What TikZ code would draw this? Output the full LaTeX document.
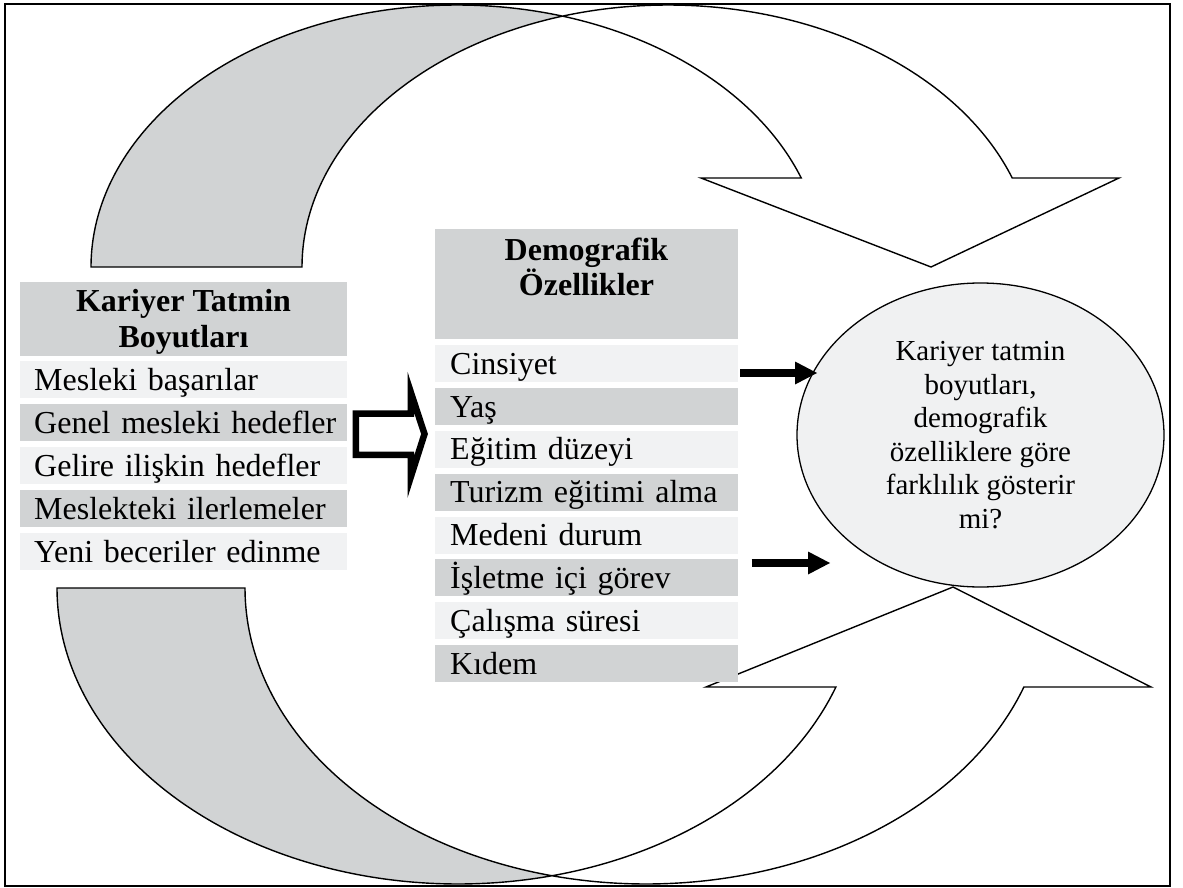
\documentclass[tikz,border=0pt]{standalone}
\usepackage{fontspec}
\setmainfont{Liberation Serif}
\usetikzlibrary{shapes.geometric, arrows.meta}
\definecolor{bandgray}{RGB}{209,211,212}
\definecolor{rowgray}{RGB}{209,211,212}
\definecolor{rowlight}{RGB}{241,242,243}
\definecolor{ellfill}{RGB}{240,241,242}
\begin{document}
\begin{tikzpicture}[x=1pt, y=-1pt,
  frame/.style={draw=black, line width=2.4pt},
  curve/.style={draw=black, line width=1.4pt, line join=miter},
  rowbase/.style={anchor=north west, inner ysep=0pt, inner xsep=0pt, minimum height=37pt,
    text height=25pt, text depth=4pt, align=left, font=\fontsize{32}{36}\selectfont},
  lrow/.style={rowbase, text width=327pt, execute at begin node={\hspace*{14pt}}},
  mrow/.style={rowbase, text width=303pt, execute at begin node={\hspace*{15pt}}},
  lightrow/.style={fill=rowlight},
  darkrow/.style={fill=rowgray},
  headbox/.style={fill=rowgray, anchor=north west, inner sep=0pt},
  headtext/.style={align=center, inner sep=0pt, font=\fontsize{32}{35.5}\selectfont\bfseries},
  hollow/.style={draw=black, fill=white, line width=6.5pt, miter limit=20},
  blackarrow/.style={draw=black, line width=8pt, -{Triangle[length=22pt,width=23pt,line width=0pt]}},
  question/.style={ellipse, draw=black, line width=1.3pt, fill=ellfill,
    minimum width=367pt, minimum height=304pt, inner sep=0pt, align=center,
    font=\fontsize{29}{33.6}\selectfont}
]
\useasboundingbox (0,0) rectangle (1183,888);

% ---- top curved arrow ----
\fill[bandgray]
  plot[domain=180:73.25, samples=90, variable=\t] ({457+366*cos(\t)},{267-262*sin(\t)})
  -- plot[domain=106.75:180, samples=90, variable=\t] ({668+366*cos(\t)},{267-262*sin(\t)})
  -- cycle;
\draw[curve]
  plot[domain=180:19.857, samples=160, variable=\t] ({457+366*cos(\t)},{267-262*sin(\t)})
  -- (701,178) -- (931,267) -- (1119,178)
  -- plot[domain=19.857:180, samples=160, variable=\t] ({668+366*cos(\t)},{267-262*sin(\t)})
  -- cycle;

% ---- bottom curved arrow ----
\fill[bandgray]
  plot[domain=180:76.44, samples=90, variable=\t] ({458+401*cos(\t)},{588+296*sin(\t)})
  -- plot[domain=103.56:180, samples=90, variable=\t] ({646+401*cos(\t)},{588+296*sin(\t)})
  -- cycle;
\draw[curve]
  plot[domain=180:19.54, samples=160, variable=\t] ({458+401*cos(\t)},{588+296*sin(\t)})
  -- (706,687) -- (953,587) -- (1151,687)
  -- plot[domain=19.54:180, samples=160, variable=\t] ({646+401*cos(\t)},{588+296*sin(\t)})
  -- cycle;

% ---- left table ----
\node[headbox, minimum width=327pt, minimum height=74pt] (kh) at (20,282) {};
\node[headtext] (kht) at (183.5,322) {Kariyer Tatmin\\Boyutları};
\node[lrow, lightrow] (k1) at (20,361) {Mesleki başarılar};
\node[lrow, darkrow]  (k2) at (20,404) {Genel mesleki hedefler};
\node[lrow, lightrow] (k3) at (20,447) {Gelire ilişkin hedefler};
\node[lrow, darkrow]  (k4) at (20,490) {Meslekteki ilerlemeler};
\node[lrow, lightrow] (k5) at (20,533) {Yeni beceriler edinme};

% ---- middle table ----
\node[headbox, minimum width=303pt, minimum height=110pt] (dh) at (435,229) {};
\node[headtext] (dht) at (586.5,267) {Demografik\\Özellikler};
\node[mrow, lightrow] (d1) at (435,345) {Cinsiyet};
\node[mrow, darkrow]  (d2) at (435,387.86) {Yaş};
\node[mrow, lightrow] (d3) at (435,430.71) {Eğitim düzeyi};
\node[mrow, darkrow]  (d4) at (435,473.57) {Turizm eğitimi alma};
\node[mrow, lightrow] (d5) at (435,516.43) {Medeni durum};
\node[mrow, darkrow]  (d6) at (435,559.29) {İşletme içi görev};
\node[mrow, lightrow] (d7) at (435,602.14) {Çalışma süresi};
\node[mrow, darkrow]  (d8) at (435,645) {Kıdem};

% ---- ellipse ----
\node[question] (q) at (980.5,435) {Kariyer tatmin\\boyutları,\\demografik\\özelliklere göre\\farklılık gösterir\\mi?};

% ---- hollow arrow ----
\draw[hollow] (355.8,413.7) -- (410.8,413.7) -- (410.8,392.2) -- (424.5,434)
  -- (410.8,476.9) -- (410.8,454.8) -- (355.8,454.8) -- cycle;

% ---- black arrows ----
\coordinate (a1s) at (740,373);
\coordinate (a1e) at (817,373);
\coordinate (a2s) at (751.7,563);
\coordinate (a2e) at (830,563);
\draw[blackarrow] (a1s) -- (a1e);
\draw[blackarrow] (a2s) -- (a2e);

% ---- frame ----
\draw[frame] (5,4) rectangle (1170,886);
\end{tikzpicture}
\end{document}
